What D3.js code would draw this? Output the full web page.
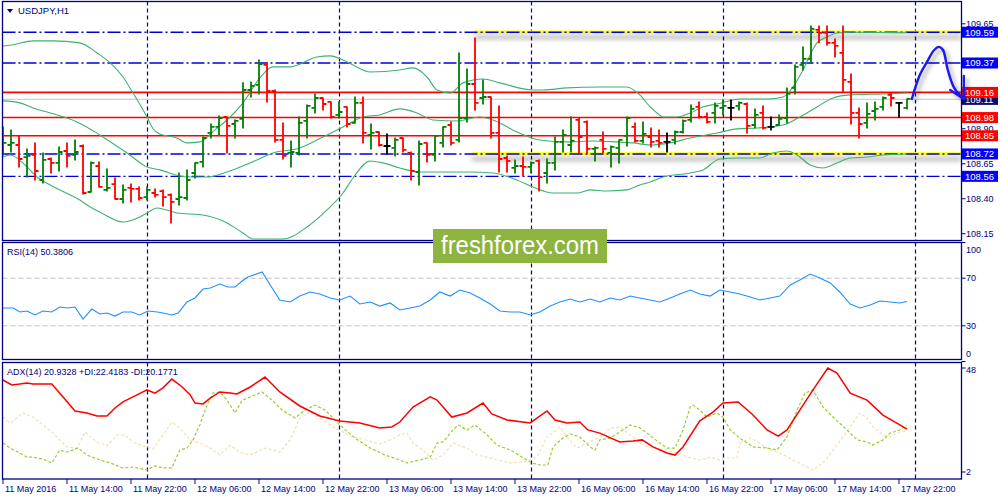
<!DOCTYPE html>
<html><head><meta charset="utf-8">
<script src="https://cdn.jsdelivr.net/npm/d3@7/dist/d3.min.js"></script>
<style>body{margin:0;background:#fff}svg{display:block}text{font-family:"Liberation Sans",Arial,sans-serif}</style>
</head><body><svg id="c" width="1000" height="500"></svg>
<script>
// ---------------- DATA ----------------
const symbolTitle = "USDJPY,H1";
const rsiTitle = "RSI(14) 50.3806";
const adxTitle = "ADX(14) 20.9328 +DI:22.4183 -DI:20.1771";
const timeLabels = ["11 May 2016","11 May 14:00","11 May 22:00","12 May 06:00","12 May 14:00","12 May 22:00","13 May 06:00","13 May 14:00","13 May 22:00","16 May 06:00","16 May 14:00","16 May 22:00","17 May 06:00","17 May 14:00","17 May 22:00"];
const timeLabelBars = [0,8,16,24,32,40,48,56,64,72,80,88,96,104,112];
const daySeparatorBars = [18,42,66,90,114];
const priceTicks = [109.65,108.90,108.65,108.40,108.15];
const rsiTicks = [100,70,30,0];
const rsiLevels = [70,30];
const adxTicks = [48,2];

const barOpen = [108.770,108.784,108.784,108.698,108.713,108.534,108.684,108.656,108.741,108.713,
108.777,108.448,108.634,108.463,108.505,108.398,108.477,108.470,108.412,108.441,
108.455,108.427,108.398,108.405,108.584,108.663,108.870,108.913,108.984,108.934,
108.970,109.177,109.213,109.356,109.170,108.820,108.727,108.727,108.956,109.049,
109.120,109.092,108.999,109.056,108.942,109.085,108.856,108.877,108.777,108.763,
108.834,108.727,108.591,108.799,108.713,108.799,108.927,108.820,108.977,109.220,
109.120,109.127,108.870,108.691,108.620,108.634,108.627,108.670,108.584,108.656,
108.806,108.784,108.963,108.949,108.756,108.820,108.727,108.763,108.849,108.913,
108.813,108.841,108.813,108.806,108.820,108.877,108.963,109.056,108.984,109.013,
109.049,109.049,109.063,109.077,108.927,109.013,108.913,108.927,108.977,109.192,
109.356,109.399,109.607,109.585,109.514,109.442,109.235,109.013,108.942,109.027,
109.056,109.142,109.085,109.049];
const barHigh = [108.913,108.892,108.849,108.756,108.799,108.727,108.691,108.770,108.799,108.820,
108.784,108.663,108.663,108.613,108.548,108.498,108.505,108.484,108.484,108.470,
108.463,108.434,108.584,108.606,108.656,108.841,108.934,108.992,108.984,108.963,
109.228,109.235,109.392,109.371,109.177,108.942,108.813,108.984,109.070,109.149,
109.120,109.092,109.092,109.056,109.127,109.127,108.934,108.877,108.863,108.834,
108.834,108.734,108.813,108.799,108.849,108.913,108.949,109.442,109.328,109.549,
109.249,109.127,109.063,108.706,108.677,108.698,108.663,108.677,108.684,108.841,
108.892,108.984,108.977,108.956,108.770,108.877,108.777,108.820,108.984,108.942,
108.949,108.906,108.892,108.870,108.884,108.963,109.070,109.092,109.013,109.085,
109.106,109.106,109.092,109.085,109.042,109.063,108.984,108.999,109.192,109.356,
109.485,109.635,109.635,109.635,109.542,109.635,109.292,109.049,109.085,109.092,
109.127,109.156,109.085,109.113];
const barLow = [108.713,108.734,108.627,108.555,108.534,108.513,108.584,108.598,108.627,108.677,
108.434,108.448,108.484,108.455,108.398,108.370,108.377,108.391,108.391,108.412,
108.348,108.227,108.355,108.391,108.548,108.627,108.834,108.856,108.727,108.834,
108.906,109.127,109.149,109.092,108.806,108.684,108.627,108.713,108.834,109.013,
109.035,108.977,108.977,108.913,108.942,108.799,108.756,108.777,108.720,108.706,
108.734,108.534,108.498,108.663,108.670,108.770,108.784,108.806,108.949,109.035,
109.077,108.834,108.591,108.591,108.584,108.563,108.584,108.455,108.513,108.606,
108.734,108.734,108.727,108.727,108.670,108.727,108.627,108.656,108.777,108.806,
108.799,108.770,108.770,108.734,108.791,108.870,108.949,108.977,108.942,108.942,
108.999,108.963,109.035,108.870,108.906,108.899,108.892,108.927,108.942,109.149,
109.320,109.371,109.514,109.499,109.413,109.163,108.934,108.834,108.906,108.963,
109.035,109.063,108.984,109.042];
const barClose = [108.799,108.799,108.684,108.706,108.598,108.677,108.656,108.734,108.706,108.734,
108.441,108.656,108.484,108.477,108.398,108.463,108.470,108.405,108.463,108.427,
108.412,108.377,108.412,108.534,108.656,108.834,108.913,108.977,108.920,108.956,
109.177,109.206,109.363,109.170,108.820,108.706,108.734,108.942,109.063,109.120,
109.077,108.984,109.020,108.934,109.085,108.870,108.870,108.784,108.777,108.820,
108.749,108.598,108.791,108.713,108.849,108.913,108.799,108.977,109.220,109.085,
109.127,108.870,108.684,108.670,108.634,108.627,108.656,108.555,108.656,108.806,
108.856,108.813,108.841,108.756,108.763,108.756,108.770,108.820,108.977,108.813,
108.863,108.806,108.799,108.806,108.877,108.956,109.042,108.984,108.949,109.063,
109.063,109.049,109.085,108.920,108.999,108.906,108.913,108.970,109.149,109.342,
109.399,109.614,109.585,109.514,109.492,109.249,109.013,108.934,109.006,109.042,
109.120,109.120,109.085,109.113];

// Bollinger bands: [bar index, price]
const bbUpper = [[0,109.492],[1.1,109.499],[3.75,109.528],[6.25,109.528],[9.6,109.514],[11.75,109.442],[13.4,109.371],[15,109.270],[16.25,109.156],[18,108.984],[18.75,108.900],[19.6,108.863],[21.75,108.834],[23,108.799],[24.6,108.806],[26.5,108.892],[28.4,108.984],[30,109.085],[32.1,109.263],[33.75,109.342],[35.9,109.342],[39.25,109.413],[40.9,109.421],[42.5,109.392],[43.75,109.356],[45.9,109.306],[49.6,109.320],[51.25,109.335],[53,109.270],[54.25,109.177],[55.9,109.156],[57.5,109.228],[60,109.256],[62.1,109.228],[66.25,109.177],[67.5,109.177],[70.5,109.192],[74.6,109.199],[78,109.199],[79.6,109.142],[80.9,109.056],[81.75,109.013],[82.5,108.984],[84.25,108.984],[85.9,109.013],[87.5,109.056],[89.25,109.077],[92.1,109.113],[95.5,109.113],[97.5,109.127],[98.75,109.199],[100,109.320],[101.75,109.514],[103,109.556],[104.25,109.585],[105.9,109.590],[109.6,109.588],[113,109.586]];
const bbMiddle = [[0,109.099],[2.1,109.085],[3.75,109.049],[6.75,108.999],[9.25,108.949],[12.1,108.856],[15.5,108.727],[18,108.627],[19.6,108.606],[23,108.555],[25.5,108.555],[28,108.591],[30.9,108.656],[33.75,108.727],[37.1,108.763],[40,108.841],[42.5,108.913],[45,108.984],[47.1,108.999],[49.6,109.042],[51.75,109.013],[53.75,108.963],[56.75,108.956],[59.6,108.984],[61.25,108.963],[64.25,108.877],[67.1,108.820],[70.5,108.806],[73.75,108.813],[76.75,108.806],[78.75,108.799],[80.9,108.784],[83.4,108.799],[85.9,108.834],[89.25,108.870],[91.75,108.899],[94.25,108.906],[97.5,108.927],[99.6,108.984],[101.75,109.056],[103.75,109.120],[105.9,109.142],[110,109.149],[113,109.156]];
const bbLower = [[0,108.698],[0.9,108.713],[3,108.627],[4.25,108.555],[5.9,108.498],[8.4,108.427],[9.6,108.391],[10.9,108.341],[12.1,108.305],[15,108.234],[17.1,108.270],[18,108.298],[19.25,108.334],[21.75,108.298],[25,108.284],[28,108.227],[30,108.155],[31.25,108.112],[35,108.112],[38,108.198],[40.5,108.320],[42.5,108.441],[43.75,108.548],[45.9,108.670],[47.5,108.656],[49.6,108.620],[52.1,108.591],[58.4,108.591],[61.25,108.584],[64.25,108.534],[66.25,108.484],[68.75,108.441],[71.75,108.441],[73.4,108.463],[75.5,108.455],[78,108.463],[79.6,108.498],[80.9,108.520],[82.5,108.555],[85.9,108.584],[87.5,108.606],[89.6,108.684],[91.75,108.691],[94.6,108.691],[96.25,108.727],[98,108.741],[99.25,108.713],[100.9,108.641],[102.5,108.620],[104.25,108.656],[105.9,108.691],[108,108.698],[110,108.713],[113,108.720]];

// Levels drawn on the chart
const resistanceSupport = [109.59,108.72];         // yellow zones
const zoneStartBar = [58.9,58.6];
const dashDotLevels = [109.59,109.37,108.72,108.56];
const redLevels = [109.16,108.98,108.85];
const bidPrice = 109.11;

// RSI: [bar index, value]
const rsi = [[0,45.0],[1.3,45.0],[2.1,41.6],[3,42.4],[4,39.1],[5,42.4],[6.1,41.6],[7.1,45.8],[8.1,45.0],[9,45.8],[10,35.7],[11.1,44.1],[12.1,39.9],[13,40.8],[14,38.2],[15,41.6],[16.1,41.6],[17.1,39.1],[18.1,42.4],[19.3,41.6],[20,40.8],[21.1,39.1],[21.9,40.8],[23,50.0],[24,53.4],[25,60.9],[25.9,61.8],[27.1,65.1],[28.1,62.6],[29,62.6],[29.9,67.6],[30.6,71.0],[32.4,75.2],[33.4,64.3],[34.6,51.7],[35.9,50.0],[37.1,55.0],[38.4,58.4],[39.6,56.7],[40.9,53.4],[42.1,51.7],[43.4,55.0],[44.6,48.3],[45.9,50.0],[47.1,46.6],[48.4,49.2],[49.6,43.3],[50.9,45.0],[52.1,46.6],[53.4,51.7],[54.6,58.4],[55.9,55.0],[57.1,60.1],[58.4,57.6],[59.6,53.4],[60.9,48.3],[62.1,42.4],[63.4,41.6],[64.6,41.6],[65.9,39.1],[67.1,41.6],[68.4,46.6],[69.6,50.0],[70.9,52.5],[72.1,50.0],[73.4,52.5],[74.6,50.0],[75.9,53.4],[77.1,51.7],[78.4,55.0],[79.6,53.4],[80.9,51.7],[82.1,50.0],[83.4,53.4],[84.6,56.7],[85.9,60.1],[87.1,56.7],[88.4,55.0],[89.6,60.1],[90.9,58.4],[92.1,56.7],[93.4,54.2],[94.6,51.7],[95.9,53.4],[97.1,55.0],[98.4,64.3],[99.6,68.5],[100.9,73.5],[102.1,70.2],[103.4,66.0],[104.6,58.4],[105.9,48.3],[107.1,45.0],[108.4,47.5],[109.6,50.8],[110.9,50.0],[112.1,49.2],[113,50.38]];

// ADX(14): [bar index, value]
const adxMain = [[0,42.7],[1.1,40.5],[2.1,40.9],[3,41.4],[3.75,40.9],[6.1,40.9],[7.5,35.2],[9,29.0],[10.5,28.1],[11.75,26.8],[13,26.8],[14,30.3],[15,33.0],[16.25,35.2],[18,38.3],[19,36.9],[20,39.2],[21.1,43.1],[22.4,39.6],[23.4,36.1],[24,32.5],[25,32.1],[25.9,34.7],[27.1,37.4],[28.4,36.9],[29.25,36.5],[30.9,39.6],[32.75,44.0],[34.6,37.4],[37.1,31.2],[39.6,26.8],[42.1,24.6],[44.6,23.7],[47.1,21.5],[48.6,21.9],[49.6,24.1],[51.25,30.7],[53.4,35.2],[54.25,33.8],[56.1,26.3],[58,28.1],[60,32.5],[61.1,27.7],[63,25.0],[65.9,23.7],[68,29.0],[69,25.0],[70.5,23.7],[72.1,24.1],[73.1,20.6],[74.6,19.2],[77.1,15.3],[78.75,15.7],[79.9,16.2],[81.25,13.1],[83,10.4],[84,9.5],[85,13.1],[87.1,24.6],[88.75,28.5],[90,32.5],[91.9,33.0],[93.75,27.2],[95.5,20.6],[96.9,17.9],[98,20.6],[99.6,29.4],[101.25,38.3],[103.1,48.0],[104.25,45.8],[105.9,36.9],[108,33.8],[110,27.2],[112.1,22.8],[113,20.93]];
const plusDI = [[0,14.8],[0.9,12.6],[2.1,10.4],[3,8.6],[3.75,8.6],[5,7.7],[6.1,6.0],[7.1,11.7],[8,10.8],[9.4,12.6],[10.5,9.5],[12.1,7.3],[13.4,6.0],[15,3.8],[16.25,4.2],[18,2.9],[19,4.7],[20,3.8],[21.1,3.8],[22.1,11.7],[23,12.6],[23.75,16.2],[24.6,22.8],[25.5,31.6],[26.25,36.9],[27.1,37.4],[28,33.8],[29,28.1],[29.9,33.8],[30.9,35.2],[32.4,37.4],[33.6,33.8],[34.9,29.4],[36.5,25.9],[37.75,29.4],[39,31.6],[40.25,29.4],[42.1,22.8],[44,17.0],[45.9,12.6],[47.75,9.5],[49.6,7.3],[50.5,6.0],[52.1,7.3],[53.4,8.6],[54.25,14.8],[55,15.3],[56.25,20.6],[56.9,22.8],[58,20.6],[59,22.8],[60.5,18.4],[61.75,13.9],[63.4,11.7],[65.5,7.3],[66.1,6.0],[67.1,5.1],[68.1,5.1],[68.75,13.1],[70,17.0],[70.9,18.8],[72.1,17.5],[73.4,13.1],[74,11.7],[74.6,16.2],[75.9,17.0],[77.1,19.7],[78.4,22.8],[79.6,21.5],[80.5,19.2],[82.1,14.8],[83,12.6],[84,12.6],[85,20.6],[85.9,30.7],[86.25,31.6],[87.1,29.4],[88,26.3],[89.25,28.1],[90,26.3],[90.9,20.6],[92.1,17.0],[93.75,13.1],[95.5,12.6],[96.75,11.7],[98,17.5],[99.25,29.4],[100.25,36.9],[101.25,38.3],[102.5,30.7],[103.75,26.3],[105.5,20.6],[106.75,16.2],[108,15.3],[108.75,13.9],[110,16.2],[110.9,19.2],[112.1,20.6],[113,22.42]];
const minusDI = [[0,26.3],[0.9,23.7],[2.5,28.1],[3.75,26.3],[5,22.8],[6.25,19.2],[8,13.1],[9.25,12.6],[10.25,19.7],[11.75,15.3],[13,13.5],[14.25,18.4],[15.25,18.4],[16.25,15.3],[17.5,13.5],[18.75,12.2],[20,18.4],[21.1,24.1],[22.1,21.5],[23.4,16.2],[24.6,14.8],[25.9,12.6],[27.1,9.5],[28.4,13.9],[29.6,10.8],[30.9,9.5],[32.75,12.6],[34.6,10.8],[35.9,16.2],[37.1,25.9],[38.4,28.5],[39.6,25.9],[41.5,21.5],[43.4,17.9],[45.25,16.2],[47.1,14.4],[48.4,16.2],[49.6,18.4],[50.5,19.2],[51.25,14.8],[52.5,11.7],[53.75,7.3],[55,9.5],[56.25,14.8],[58,12.6],[59.25,9.5],[60.5,8.6],[61.75,7.3],[63.4,6.0],[65,6.4],[66.75,8.6],[68,17.5],[68.75,19.2],[69.6,21.9],[70.5,17.5],[71.75,12.6],[73,14.8],[74.6,17.5],[75.9,21.5],[77.1,21.9],[78.75,17.5],[80,13.9],[81.25,12.6],[83,11.7],[84.25,10.4],[85.9,8.2],[87.1,7.3],[88.4,8.6],[89.6,7.3],[90.5,8.2],[91.75,8.2],[92.1,14.8],[93.4,17.0],[94.6,14.8],[95.9,11.7],[97.1,10.4],[98.75,7.3],[100.5,4.2],[101.25,2.9],[102.5,6.0],[103.75,11.7],[105,17.5],[106.75,26.3],[107.1,28.1],[108,25.9],[108.75,21.9],[110,18.4],[110.9,17.5],[112.1,19.7],[113,20.18]];

// Forecast arrow (bar index, price)
const arrowPath = [[113.6,109.113],[114.6,109.285],[115.5,109.378],[116.4,109.463],[117,109.485],[117.5,109.463],[118.1,109.320],[118.9,109.192],[120.1,109.113]];
const arrowHead = [[118.4,109.177],[120.1,109.113],[120.1,109.278]];

// ---------------- DRAWING ----------------
const navy = "#000080";
const L = 2.5, R = 961.5;
const P = {main:[1.5,240.5], rsi:[242.5,359.5], adx:[362.5,479]};
const svg = d3.select("#c");
const defs = svg.append("defs");
Object.entries(P).forEach(([k,[t,b]])=>{
  defs.append("clipPath").attr("id","clip-"+k).append("rect").attr("x",L).attr("y",t).attr("width",R-L).attr("height",b-t);
});
const sh = defs.append("filter").attr("id","shadow").attr("filterUnits","userSpaceOnUse").attr("x",0).attr("y",0).attr("width",1000).attr("height",500);
sh.append("feDropShadow").attr("dx",0).attr("dy",5).attr("stdDeviation",2.5).attr("flood-color","#000").attr("flood-opacity",0.32);
const sh2 = defs.append("filter").attr("id","shadow2").attr("filterUnits","userSpaceOnUse").attr("x",0).attr("y",0).attr("width",1000).attr("height",500);
sh2.append("feDropShadow").attr("dx",3).attr("dy",3).attr("stdDeviation",2).attr("flood-color","#000").attr("flood-opacity",0.35);

const x = d3.scaleLinear().domain([0,113]).range([3,907]);
const yP = d3.scaleLinear().domain([108.105,109.806]).range([240,2]);
const yR = d3.scaleLinear().domain([0,100]).range([361.5,242.5]);
const yA = d3.scaleLinear().domain([2,48]).range([472,368]);

svg.append("rect").attr("width",1000).attr("height",500).attr("fill","#fff");

// vertical day separators
Object.values(P).forEach(([t,b])=>{
  svg.append("g").selectAll("line").data(daySeparatorBars).join("line")
    .attr("x1",d=>Math.round(x(d))+0.5).attr("x2",d=>Math.round(x(d))+0.5).attr("y1",t).attr("y2",b)
    .attr("stroke",navy).attr("stroke-width",1.2).attr("stroke-dasharray","4,3");
});

// ---- main panel
const gm = svg.append("g").attr("clip-path","url(#clip-main)");
gm.append("line").attr("x1",L).attr("x2",R).attr("y1",yP(bidPrice)).attr("y2",yP(bidPrice)).attr("stroke","#d0d0d0").attr("stroke-width",1.3);
gm.selectAll("line.zone").data(resistanceSupport).join("line")
  .attr("x1",(d,i)=>x(zoneStartBar[i])).attr("x2",R).attr("y1",d=>yP(d)).attr("y2",d=>yP(d))
  .attr("stroke","#ffff00").attr("stroke-width",3.5).attr("filter","url(#shadow)");
gm.selectAll("line.dd").data(dashDotLevels).join("line")
  .attr("x1",L).attr("x2",R).attr("y1",d=>yP(d)).attr("y2",d=>yP(d))
  .attr("stroke","#0000d8").attr("stroke-width",1.4).attr("stroke-dasharray","13,3,2,3");
gm.selectAll("line.red").data(redLevels).join("line")
  .attr("x1",L).attr("x2",R).attr("y1",d=>yP(d)).attr("y2",d=>yP(d))
  .attr("stroke","#ff0000").attr("stroke-width",1.6);
const band = d3.line().x(d=>x(d[0])).y(d=>yP(d[1])).curve(d3.curveMonotoneX);
[bbUpper,bbMiddle,bbLower].forEach(s=>{
  gm.append("path").attr("d",band(s)).attr("fill","none").attr("stroke","#3cb371").attr("stroke-width",1.1);
});
const bars = barOpen.map((o,i)=>({i,o,h:barHigh[i],l:barLow[i],c:barClose[i]}));
const col = d => d.c>d.o ? "#008000" : (d.c<d.o ? "#ff0000" : "#000000");
const gb = gm.append("g").attr("stroke-width",1.8);
gb.selectAll("line.hl").data(bars).join("line")
  .attr("x1",d=>x(d.i)).attr("x2",d=>x(d.i)).attr("y1",d=>yP(d.h)-0.5).attr("y2",d=>yP(d.l)+0.5).attr("stroke",col);
gb.selectAll("line.op").data(bars).join("line")
  .attr("x1",d=>x(d.i)-3.5).attr("x2",d=>x(d.i)).attr("y1",d=>yP(d.o)).attr("y2",d=>yP(d.o)).attr("stroke",col);
gb.selectAll("line.cl").data(bars).join("line")
  .attr("x1",d=>x(d.i)).attr("x2",d=>x(d.i)+3.5).attr("y1",d=>yP(d.c)).attr("y2",d=>yP(d.c)).attr("stroke",col);

// ---- RSI panel
const gr = svg.append("g").attr("clip-path","url(#clip-rsi)");
gr.selectAll("line").data(rsiLevels).join("line").attr("x1",L).attr("x2",R)
  .attr("y1",d=>yR(d)).attr("y2",d=>yR(d)).attr("stroke","#c0c0c0").attr("stroke-dasharray","5,3");
gr.append("path").attr("d",d3.line().x(d=>x(d[0])).y(d=>yR(d[1]))(rsi)).attr("fill","none").attr("stroke","#1e90ff").attr("stroke-width",1.1);

// ---- ADX panel
const ga = svg.append("g").attr("clip-path","url(#clip-adx)");
const la = d3.line().x(d=>x(d[0])).y(d=>yA(d[1]));
ga.append("path").attr("d",la(minusDI)).attr("fill","none").attr("stroke","#f5deb3").attr("stroke-width",1.2).attr("stroke-dasharray","3,2");
ga.append("path").attr("d",la(plusDI)).attr("fill","none").attr("stroke","#9acd32").attr("stroke-width",1.2).attr("stroke-dasharray","3,2");
ga.append("path").attr("d",la(adxMain)).attr("fill","none").attr("stroke","#ff0000").attr("stroke-width",1.5);

// ---- frames
Object.values(P).forEach(([t,b])=>{
  svg.append("rect").attr("x",L).attr("y",t).attr("width",R-L).attr("height",b-t)
    .attr("fill","none").attr("stroke",navy).attr("stroke-width",1.3);
});

// ---- right axes
const fs = 9;
function axisLabels(vals, scale, t, b, dec){
  const g = svg.append("g");
  vals.forEach(v=>{
    const yy = scale(v);
    const ty = Math.min(Math.max(yy,t+7),b-6);
    g.append("line").attr("x1",R).attr("x2",R+4).attr("y1",yy).attr("y2",yy).attr("stroke",navy);
    g.append("text").attr("x",966).attr("y",ty).attr("dy","0.35em").attr("font-size",fs).attr("fill",navy).text(v.toFixed(dec));
  });
}
axisLabels(priceTicks, yP, ...P.main, 2);
axisLabels(rsiTicks, yR, ...P.rsi, 0);
axisLabels(adxTicks, yA, ...P.adx, 0);

function boxLabel(v, bg){
  const yy = yP(v);
  svg.append("rect").attr("x",962).attr("y",yy-5.5).attr("width",36).attr("height",11).attr("fill",bg);
  svg.append("text").attr("x",965).attr("y",yy).attr("dy","0.35em").attr("font-size",9.5).attr("fill","#fff").text(v.toFixed(2));
}
boxLabel(bidPrice,"#0c0c70");
dashDotLevels.forEach(v=>boxLabel(v,"#0000ff"));
redLevels.forEach(v=>boxLabel(v,"#ff0000"));

// ---- x axis
const gx = svg.append("g");
gx.selectAll("line").data(timeLabelBars).join("line")
  .attr("x1",d=>x(d)).attr("x2",d=>x(d)).attr("y1",479).attr("y2",484).attr("stroke",navy);
gx.selectAll("text").data(timeLabelBars).join("text")
  .attr("x",d=>x(d)+2).attr("y",488.5).attr("dy","0.35em").attr("font-size",fs).attr("fill",navy)
  .text((d,i)=>timeLabels[i]);

// ---- titles
svg.append("path").attr("d","M7,9 L13,9 L10,13 Z").attr("fill",navy);
svg.append("text").attr("x",18).attr("y",11).attr("dy","0.35em").attr("font-size",fs+0.5).attr("fill",navy).text(symbolTitle);
svg.append("text").attr("x",7).attr("y",252).attr("dy","0.35em").attr("font-size",fs).attr("fill",navy).text(rsiTitle);
svg.append("text").attr("x",7).attr("y",372).attr("dy","0.35em").attr("font-size",fs).attr("fill",navy).text(adxTitle);

// ---- forecast arrow
const ga2 = svg.append("g").attr("filter","url(#shadow2)").attr("fill","none").attr("stroke","#1a1ae6").attr("stroke-width",2.4).attr("stroke-linecap","round").attr("stroke-linejoin","round");
ga2.append("path").attr("d",d3.line().x(d=>x(d[0])).y(d=>yP(d[1])).curve(d3.curveCatmullRom)(arrowPath));
ga2.append("path").attr("d",d3.line().x(d=>x(d[0])).y(d=>yP(d[1]))(arrowHead));

// ---- watermark
svg.append("rect").attr("x",433).attr("y",229).attr("width",174).attr("height",34).attr("fill","#8cb43e");
svg.append("text").attr("x",441).attr("y",254).attr("font-family","'Open Sans',sans-serif").attr("font-size",25)
  .attr("fill","#fff").attr("textLength",158).attr("lengthAdjust","spacingAndGlyphs").text("freshforex.com");
</script></body></html>
